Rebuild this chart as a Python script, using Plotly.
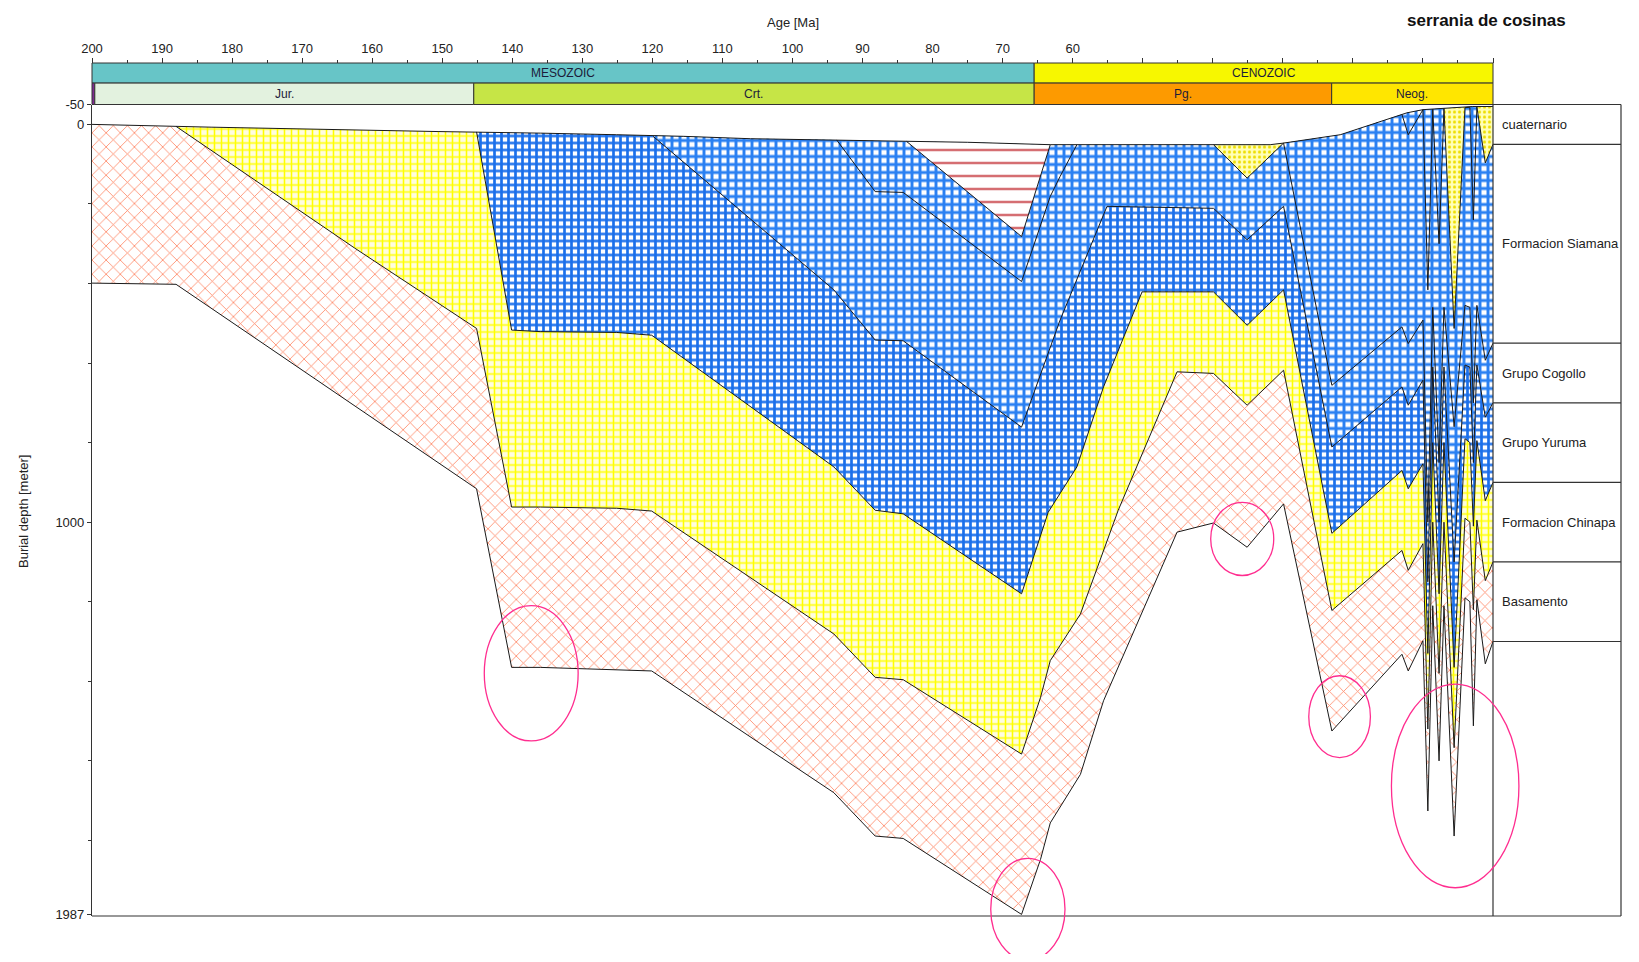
import numpy as np
import plotly.graph_objects as go

# ---------------- data (age in Ma, depth in m) ----------------
SURF_AGE = [200, 188, 183, 150.6, 145.2, 136, 125.1, 115.6, 106, 93.7, 83.7, 75, 63.2, 31.8, 29.9, 21.8, 12.3, 10, 2.9, 0]
SURF_DEP = [0, 5, 7, 18, 19, 22, 26, 30, 36, 39, 43, 45, 51, 51, 47, 26, -29, -37, -45, -45]

NEO_AGE = [10.0, 9.3, 8.6, 7.7, 7.0, 5.55, 4.0, 3.3, 2.8, 2.3, 1.1, 0.0]

BBOT_AGE = [200, 188, 145.1, 140.1, 136.0, 125.1, 120.1, 94.1, 88.2, 84.2, 67.3, 64.6, 63.2, 58.9, 55.6,
            45.1, 39.9, 35.1, 29.9, 23.0, 13.0, 12.1] + NEO_AGE
BBOT_DEP = [399, 402, 916, 1365, 1365, 1371, 1374, 1680, 1789, 1795, 1986, 1848, 1756, 1634, 1449,
            1025, 1002, 1063, 954, 1525, 1332, 1374,
            1298, 1726, 1210, 1600, 1210, 1789, 1190, 1200, 1512, 1195, 1356, 1300]

BTOP_AGE = [188, 176.8, 162.5, 145.1, 140.1, 136.0, 125.1, 120.1, 94.1, 88.2, 84.2, 67.3, 64.6, 63.2, 58.9,
            53.5, 45.1, 39.9, 35.1, 29.9, 23.0, 13.0, 12.1] + NEO_AGE
BTOP_DEP = [5, 139, 311, 513, 962, 962, 965, 972, 1281, 1390, 1396, 1583, 1441, 1348, 1231,
            970, 622, 626, 706, 618, 1222, 1071, 1121,
            1054, 1520, 1000, 1380, 1000, 1567, 990, 1000, 1220, 995, 1147, 1100]

H2_AGE = [145.1, 140.1, 136.0, 125.1, 120.1, 94.1, 88.2, 84.2, 67.3, 63.5, 59.4, 55.6, 50.1,
          39.9, 35.1, 29.9, 23.0, 13.0, 12.1] + NEO_AGE
H2_DEP = [19, 517, 521, 523, 530, 861, 970, 979, 1180, 975, 861, 660, 421,
          421, 505, 416, 1028, 870, 916,
          853, 1330, 800, 1180, 800, 1365, 790, 800, 1010, 795, 946, 900]

H3_AGE = [119.9, 94.1, 88.2, 84.2, 67.3, 61.8, 55.1, 39.9, 35.1, 29.9, 23.0, 13.0, 12.1] + NEO_AGE
H3_DEP = [30, 416, 542, 544, 761, 492, 206, 211, 290, 206, 811, 660, 706,
          643, 1150, 610, 1000, 610, 1100, 605, 610, 850, 605, 736, 700]

H4_AGE = [93.7, 88.2, 84.2, 67.3, 63.2, 61.8, 59.4]
H4_DEP = [39, 169, 171, 395, 181, 131, 51]

H5_AGE = [83.7, 67.3, 63.2]
H5_DEP = [43, 282, 51]

H6_AGE = [39.9, 35.1, 29.9, 23.0, 13.0, 12.1] + NEO_AGE
H6_DEP = [51, 135, 47, 656, 509, 551,
          492, 1000, 460, 850, 460, 760, 455, 460, 700, 455, 593, 550]

H7_AGE = [13.0, 12.1] + NEO_AGE
H7_DEP = [-25, 26, -37, 416, -38, 300, -40, 513, -42, -43, 240, -44, 97, 50]

ERA_NAMES = ["MESOZOIC", "CENOZOIC"]
ERA_START = [200, 65.5]
ERA_END = [65.5, 0]
ERA_COLORS = ["#67c5c7", "#f7f700"]

PER_NAMES = ["", "Jur.", "Crt.", "Pg.", "Neog."]
PER_START = [200, 199.6, 145.5, 65.5, 23.03]
PER_END = [199.6, 145.5, 65.5, 23.03, 0]
PER_COLORS = ["#7f2a90", "#e3f2df", "#c6e546", "#fd9a00", "#ffe600"]

LEG_NAMES = ["cuaternario", "Formacion Siamana", "Grupo Cogollo", "Grupo Yuruma",
             "Formacion Chinapa", "Basamento"]
LEG_TOPS = [-50, 50, 550, 700, 900, 1100]
LEG_BASE = 1300

X_TICKS = list(range(200, -1, -10))
X_TICKTEXT = [str(v) if v >= 60 else "" for v in X_TICKS]
Y_TICKS = [-50, 0, 1000, 1987]
Y_MINOR = [200, 400, 600, 800, 1200, 1400, 1600, 1800]

# highlight ellipses: centre age, centre depth, half-width (Ma), half-height (m)
CIRC_AGE = [137.3, 66.4, 35.8, 21.9, 5.4]
CIRC_DEP = [1380, 1973, 1042, 1489, 1663]
CIRC_RA = [6.7, 5.3, 4.5, 4.4, 9.1]
CIRC_RD = [170, 128, 92, 103, 256]

# ---------------- layout geometry (page pixels, page has an 8px body margin) ----------------
OFF = 8
W, H = 1639 - 2 * OFF, 962 - 2 * OFF
PLOT_L, PLOT_R, PLOT_T, PLOT_B = 92, 1493, 104.5, 916     # page coords of plot area
STRIP_T = 63
ML = PLOT_L - OFF
MR = W - (PLOT_R - OFF)
MT = STRIP_T - OFF
MB = H - (PLOT_B - OFF)
PLOT_W = W - ML - MR
PLOT_H = H - MT - MB
X_RANGE = [200, 0]
Y_RANGE = [1990, -50]
DOM_TOP = (PLOT_B - PLOT_T) / PLOT_H
ERA_BOT = (PLOT_B - 83.1) / PLOT_H
LEG_R = (1621 - PLOT_L) / PLOT_W

FONT = "Liberation Sans, Arial, sans-serif"


def pxp(xpage):
    return (xpage - PLOT_L) / PLOT_W


def pyp(ypage):
    return (PLOT_B - ypage) / PLOT_H


def px(age):
    return (X_RANGE[0] - age) / (X_RANGE[0] - X_RANGE[1])


def py(dep):
    return DOM_TOP * (Y_RANGE[0] - dep) / (Y_RANGE[0] - Y_RANGE[1])


def clip(ages, deps, a_hi, a_lo):
    a = np.asarray(ages, float)
    d = np.asarray(deps, float)
    inside = (a < a_hi) & (a > a_lo)
    xa = np.concatenate([[a_hi], a[inside], [a_lo]])
    ya = np.interp(xa, a[::-1], d[::-1])
    return xa, ya


PINK = dict(shape="x", fgcolor="#ff7f5c", bgcolor="#ffffff", size=10, solidity=0.15, fillmode="replace")
YEL = dict(shape="+", fgcolor="#ffff00", bgcolor="#fffde0", size=7, solidity=0.4, fillmode="replace")
BLUE_A = dict(shape="+", fgcolor="#1b6fea", bgcolor="#ffffff", size=7, solidity=0.62, fillmode="replace")
BLUE_B = dict(shape="+", fgcolor="#2a80f2", bgcolor="#ffffff", size=8, solidity=0.6, fillmode="replace")
BROWN = dict(shape="-", fgcolor="#c0282c", bgcolor="#ffffff", size=13, solidity=0.13, fillmode="replace")
SAND = dict(shape=".", fgcolor="#eedd00", bgcolor="#ffffb8", size=5, solidity=0.3, fillmode="replace")

bands = [
    (BBOT_AGE, BBOT_DEP, 200, 0, PINK),
    (BTOP_AGE, BTOP_DEP, 188, 0, YEL),
    (H2_AGE, H2_DEP, 145.1, 0, BLUE_A),
    (H3_AGE, H3_DEP, 119.9, 0, BLUE_B),
    (H5_AGE, H5_DEP, 83.7, 63.2, BROWN),
    (H6_AGE, H6_DEP, 39.9, 29.9, SAND),
    (H6_AGE, H6_DEP, 29.9, 0, BLUE_B),
    (H7_AGE, H7_DEP, 7.0, 4.0, SAND),
    (H7_AGE, H7_DEP, 2.3, 0, SAND),
]

fig = go.Figure()
for ages, deps, a_hi, a_lo, pat in bands:
    bx, by = clip(ages, deps, a_hi, a_lo)
    sx, sy = clip(SURF_AGE, SURF_DEP, a_hi, a_lo)
    fig.add_trace(go.Scatter(
        x=np.concatenate([bx, sx[::-1]]), y=np.concatenate([by, sy[::-1]]),
        mode="lines", fill="toself", line=dict(width=0, color="rgba(0,0,0,0)"),
        fillcolor=pat["bgcolor"], fillpattern=pat, hoverinfo="skip", showlegend=False))

for ages, deps in [(SURF_AGE, SURF_DEP), (BBOT_AGE, BBOT_DEP), (BTOP_AGE, BTOP_DEP),
                   (H2_AGE, H2_DEP), (H3_AGE, H3_DEP), (H4_AGE, H4_DEP), (H5_AGE, H5_DEP),
                   (H6_AGE, H6_DEP), (H7_AGE, H7_DEP)]:
    fig.add_trace(go.Scatter(x=ages, y=deps, mode="lines",
                             line=dict(color="#1a1a1a", width=1),
                             hoverinfo="skip", showlegend=False))

shapes = []
annots = []


def label(text, x, y, size=13, xanchor="center", yanchor="middle", color="#222", family=FONT, **kw):
    annots.append(dict(text=text, xref="paper", yref="paper", x=x, y=y, xanchor=xanchor,
                       yanchor=yanchor, showarrow=False,
                       font=dict(size=size, color=color, family=family), **kw))


# strips
for name, a0, a1, c in zip(ERA_NAMES, ERA_START, ERA_END, ERA_COLORS):
    shapes.append(dict(type="rect", xref="paper", yref="paper", x0=px(a0), x1=px(a1),
                       y0=ERA_BOT, y1=1.0, fillcolor=c, line=dict(color="#333", width=1)))
    label(name, (px(a0) + px(a1)) / 2, (ERA_BOT + 1.0) / 2, size=12, color="#1c1c3a")
for name, a0, a1, c in zip(PER_NAMES, PER_START, PER_END, PER_COLORS):
    shapes.append(dict(type="rect", xref="paper", yref="paper", x0=px(a0), x1=px(a1),
                       y0=DOM_TOP, y1=ERA_BOT, fillcolor=c, line=dict(color="#333", width=1)))
    if name:
        label(name, (px(a0) + px(a1)) / 2, (ERA_BOT + DOM_TOP) / 2, size=12, color="#1c1c3a")

# frame lines
line_c = dict(color="#333", width=1.2)
shapes.append(dict(type="line", xref="paper", yref="paper", x0=0, x1=LEG_R, y0=0, y1=0, line=line_c))
shapes.append(dict(type="line", xref="paper", yref="paper", x0=1, x1=1, y0=0, y1=DOM_TOP, line=line_c))
shapes.append(dict(type="line", xref="paper", yref="paper", x0=LEG_R, x1=LEG_R, y0=0, y1=DOM_TOP, line=line_c))
shapes.append(dict(type="line", xref="paper", yref="paper", x0=1, x1=LEG_R, y0=DOM_TOP, y1=DOM_TOP, line=line_c))

# legend table
bounds = LEG_TOPS + [LEG_BASE]
for b in bounds[1:]:
    shapes.append(dict(type="line", xref="paper", yref="paper", x0=1, x1=LEG_R,
                       y0=py(b), y1=py(b), line=line_c))
for name, t, b in zip(LEG_NAMES, bounds[:-1], bounds[1:]):
    label(name, 1 + 7 / PLOT_W, (py(t) + py(b)) / 2, xanchor="left")

# highlight ellipses
for a, d, ra, rd in zip(CIRC_AGE, CIRC_DEP, CIRC_RA, CIRC_RD):
    shapes.append(dict(type="circle", xref="paper", yref="paper",
                       x0=px(a + ra), x1=px(a - ra), y0=py(d + rd), y1=py(d - rd),
                       line=dict(color="#ff2d8f", width=1.3), fillcolor="rgba(0,0,0,0)"))

label("Age [Ma]", 0.5, pyp(23))
label("<b>serrania de cosinas</b>", pxp(1486), pyp(9), size=17, color="#111", yanchor="top")
label("Burial depth [meter]", pxp(23), pyp(512), textangle=-90)

fig.update_layout(
    width=W, height=H, margin=dict(l=ML, r=MR, t=MT, b=MB, autoexpand=False),
    paper_bgcolor="white", plot_bgcolor="white",
    font=dict(family=FONT, size=13, color="#222"),
    shapes=shapes, annotations=annots, showlegend=False,
    xaxis=dict(range=X_RANGE, side="top", anchor="free", position=1, showline=True,
               linecolor="#333", linewidth=1, ticks="outside", ticklen=5, tickcolor="#333",
               tickvals=X_TICKS, ticktext=X_TICKTEXT, showgrid=False, zeroline=False,
               automargin=False, tickfont=dict(size=13, color="#222"),
               minor=dict(dtick=5, ticks="outside", ticklen=3, tickcolor="#333", showgrid=False)),
    yaxis=dict(range=Y_RANGE, domain=[0, DOM_TOP], showline=True, linecolor="#333", linewidth=1.2,
               ticks="outside", ticklen=4, tickcolor="#333", tickvals=Y_TICKS,
               ticktext=[str(v) for v in Y_TICKS], showgrid=False, zeroline=False,
               automargin=False, tickfont=dict(size=13, color="#222"),
               minor=dict(tickvals=Y_MINOR, ticks="outside", ticklen=3, tickcolor="#333",
                          showgrid=False)),
)

fig.write_html("out.html")
